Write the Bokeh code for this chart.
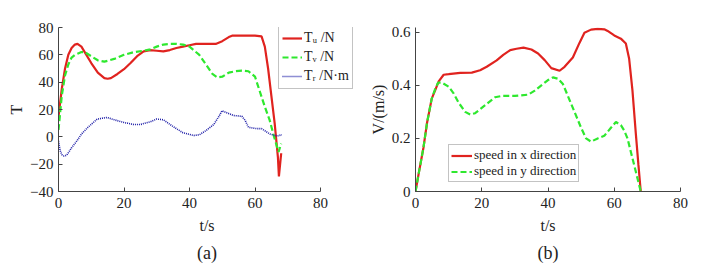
from bokeh.plotting import figure
from bokeh.layouts import row
from bokeh.models import Range1d, FixedTicker, Legend, LegendItem, Title
from bokeh.embed import file_html
from bokeh.resources import INLINE

# ---- panel (a) data ----
t_u = [0, 1, 2, 3, 4, 5, 5.8, 7, 8, 10, 12, 14, 15, 16, 18, 20, 22, 24, 26, 28, 30, 32, 34, 36, 38, 40, 42, 44, 46, 48, 50, 52, 53, 55, 58, 60, 62, 63, 64, 65, 66, 67, 67.3, 68]
T_u = [15, 35, 50, 60, 65, 67.5, 68, 66, 62, 54, 47, 43, 42.5, 43, 46, 49.5, 54, 59, 62.5, 63.5, 63, 62.5, 63.5, 65, 66, 67, 68, 68, 68, 68, 70, 73, 74, 74, 74, 74, 73.5, 66, 50, 30, 10, -15, -29, -12]
t_v = [0, 1, 2, 3, 4, 5, 6, 7, 8, 10, 12, 14, 17, 20, 23, 26, 28, 30, 32, 34, 36, 38, 40, 41, 43, 45, 47, 48.5, 50, 52, 54, 56, 58, 60, 61.5, 63, 64.5, 65.7, 67.2, 68]
T_v = [5, 30, 45, 53, 58, 60, 61, 62, 62, 59, 56, 55, 57, 60, 62, 63, 64, 66, 67.5, 68, 68, 67.5, 66, 64, 60, 53, 46, 43.5, 44, 47, 48, 48.5, 48, 44, 33, 22, 12, 1, -11, -5]
t_r = [0, 0.5, 1, 1.6, 2.5, 4, 5.7, 7, 9, 11.8, 14.8, 17, 20, 23, 25, 28, 30, 32, 35, 38, 41.3, 43, 45, 47.4, 49, 49.9, 51, 53.5, 56, 57, 58, 60.5, 62, 64.6, 66, 67, 68.2]
T_r = [-3, -10, -13, -14, -13.5, -8, -2.7, 2, 7, 13, 14.2, 12.5, 10.5, 9, 9, 11, 13, 12.5, 7.5, 3, 1, 1.5, 4.5, 9, 15, 19, 18, 15.6, 15, 12, 7, 6, 6, 2, 1, 0.8, 1.5]
xticks_a = [0, 20, 40, 60, 80]
yticks_a = [-40, -20, 0, 20, 40, 60, 80]

# ---- panel (b) data ----
t_x = [0, 1, 2.4, 3.5, 4.9, 5.9, 7, 8.5, 10, 13.5, 17, 19.5, 21.5, 24.5, 26.5, 28.6, 30.5, 32.6, 35, 37, 39, 41, 43.5, 45, 47.5, 49.5, 51, 53, 55, 57, 58, 60, 62, 63.5, 64.5, 65.5, 66.5, 67.3, 68]
V_x = [0, 0.07, 0.165, 0.26, 0.35, 0.38, 0.415, 0.44, 0.442, 0.447, 0.448, 0.457, 0.47, 0.494, 0.515, 0.533, 0.538, 0.542, 0.535, 0.52, 0.495, 0.465, 0.455, 0.47, 0.505, 0.56, 0.598, 0.61, 0.613, 0.611, 0.605, 0.588, 0.576, 0.558, 0.5, 0.38, 0.22, 0.1, 0]
t_y = [0, 1, 2.4, 3.5, 4.9, 5.9, 6.8, 8, 10, 11.5, 13, 15, 16.5, 18, 20, 22, 24, 26, 30, 34, 36, 38, 40, 41.5, 43, 44.5, 46, 48, 50, 51.5, 53, 55, 57, 59, 60.5, 62, 63, 64, 65, 66, 67, 68]
V_y = [0, 0.07, 0.165, 0.26, 0.35, 0.385, 0.41, 0.41, 0.395, 0.37, 0.335, 0.3, 0.29, 0.295, 0.315, 0.335, 0.355, 0.36, 0.36, 0.365, 0.38, 0.4, 0.42, 0.43, 0.425, 0.405, 0.36, 0.3, 0.24, 0.2, 0.188, 0.2, 0.21, 0.24, 0.262, 0.25, 0.23, 0.2, 0.15, 0.1, 0.05, 0]
xticks_b = [0, 20, 40, 60, 80]
yticks_b = [0, 0.2, 0.4, 0.6]
ylabels_b = {0: "0", 0.2: "0.2", 0.4: "0.4", 0.6: "0.6"}

RED = "#e0231f"
GREEN = "#2ee82e"
BLUE = "#1f1fa8"
FONT = "Liberation Serif"


def style(p, xt, yt):
    p.outline_line_color = None
    p.xgrid.visible = False
    p.ygrid.visible = False
    p.background_fill_color = "white"
    p.border_fill_color = "white"
    for ax in (p.xaxis[0], p.yaxis[0]):
        ax.axis_line_color = "#444444"
        ax.major_tick_line_color = "#444444"
        ax.minor_tick_line_color = None
        ax.major_tick_in = 4
        ax.major_tick_out = 0
        ax.major_label_text_font = FONT
        ax.major_label_text_font_size = "15px"
        ax.major_label_text_color = "#222222"
        ax.axis_label_text_font = FONT
        ax.axis_label_text_font_size = "16px"
        ax.axis_label_text_font_style = "normal"
        ax.axis_label_text_color = "#222222"
    p.xaxis[0].ticker = FixedTicker(ticks=xt)
    p.yaxis[0].ticker = FixedTicker(ticks=yt)
    p.xaxis[0].bounds = (0, 80)
    p.xaxis[0].major_label_standoff = 6
    p.xaxis[0].axis_label_standoff = 6
    p.yaxis[0].axis_label_standoff = 2


# ---- figure (a) ----
pa = figure(width=360, height=266, output_backend="svg", toolbar_location=None,
            x_range=Range1d(0, 80 * 297 / 262), y_range=Range1d(-40, 80),
            min_border_left=58, min_border_top=27, min_border_right=5, min_border_bottom=0)
style(pa, xticks_a, yticks_a)
pa.xaxis.axis_label = "t/s"
pa.yaxis.axis_label = "T"
ru = pa.line(t_u, T_u, line_color=RED, line_width=2.2)
rv = pa.line(t_v, T_v, line_color=GREEN, line_width=2.2, line_dash="6 3")
rr = pa.line(t_r, T_r, line_color=BLUE, line_width=1.6, line_dash="1 1")
leg_a = Legend(items=[LegendItem(label="T\u1d64 /N", renderers=[ru]),
                      LegendItem(label="T\u1d65 /N", renderers=[rv]),
                      LegendItem(label="T\u1d63 /N\u00b7m", renderers=[rr])],
               location=(220, 102), glyph_width=20, glyph_height=18, label_height=18,
               spacing=1, padding=3, margin=0, label_standoff=2,
               label_text_font=FONT, label_text_font_size="14px", label_text_color="#222222",
               border_line_color="#888888", border_line_width=1,
               background_fill_alpha=1)
pa.add_layout(leg_a, "center")
pa.add_layout(Title(text="(a)", align="center", text_font=FONT, text_font_size="18px",
                    text_font_style="normal", text_color="#222222", standoff=8), "below")

# ---- figure (b) ----
pb = figure(width=357, height=266, output_backend="svg", toolbar_location=None,
            x_range=Range1d(0, 80), y_range=Range1d(0, 0.618),
            min_border_left=55, min_border_top=26, min_border_right=37, min_border_bottom=0)
style(pb, xticks_b, yticks_b)
pb.yaxis[0].major_label_overrides = ylabels_b
pb.xaxis.axis_label = "t/s"
pb.yaxis.axis_label = "V/(m/s)"
rx = pb.line(t_x, V_x, line_color=RED, line_width=2.2)
ry = pb.line(t_y, V_y, line_color=GREEN, line_width=2.2, line_dash="6 3")
leg_b = Legend(items=[LegendItem(label="speed in x direction", renderers=[rx]),
                      LegendItem(label="speed in y direction", renderers=[ry])],
               location=(33, 9), glyph_width=21, glyph_height=13, label_height=13,
               spacing=0, padding=2, margin=0, label_standoff=2,
               label_text_font=FONT, label_text_font_size="13px", label_text_color="#222222",
               border_line_color="#888888", border_line_width=1,
               background_fill_alpha=1)
pb.add_layout(leg_b, "center")
pb.add_layout(Title(text="(b)", align="center", text_font=FONT, text_font_size="18px",
                    text_font_style="normal", text_color="#222222", standoff=8), "below")

layout = row(pa, pb)
open("out.html", "w").write(file_html(layout, INLINE))
